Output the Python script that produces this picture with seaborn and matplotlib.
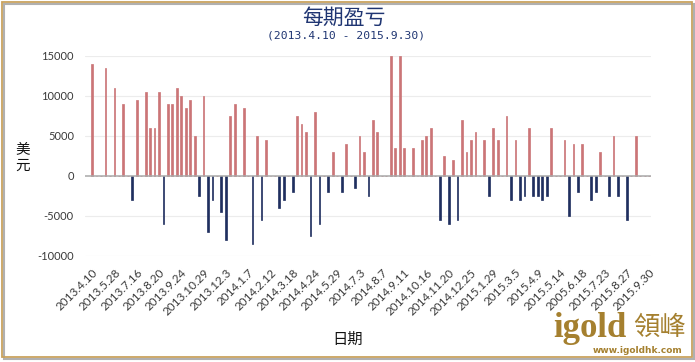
import numpy as np
import pandas as pd
import seaborn as sns
import matplotlib.pyplot as plt
from matplotlib.patches import Rectangle

# weekly profit / loss (USD), one entry per period, 0 = no trade
pnl = [
    14000, 0, 0, 13500, 0, 11000, 0, 9000, 0, -3000,
    9500, 0, 10500, 6000, 6000, 10500, -6000, 9000, 9000, 11000,
    10000, 8500, 9500, 5000, -2500, 10000, -7000, -3000, 0, -4500,
    -8000, 7500, 9000, 0, 8500, 0, -8500, 5000, -5500, 4500,
    0, 0, -4000, -3000, 0, -2000, 7500, 6500, 5500, -7500,
    8000, -6000, 0, -2000, 3000, 0, -2000, 4000, 0, -1500,
    5000, 3000, -2500, 7000, 5500, 0, 0, 15000, 3500, 15000,
    3500, 0, 3500, 0, 4500, 5000, 6000, 0, -5500, 2500,
    -6000, 2000, -5500, 7000, 3000, 4500, 5500, 0, 4500, -2500,
    6000, 4500, 0, 7500, -3000, 4500, -3000, -2500, 6000, -2500,
    -2500, -3000, -2500, 6000, 0, 0, 4500, -5000, 4000, -2000,
    4000, 0, -3000, -2000, 3000, 0, -2500, 5000, -2500, 0,
    -5500, 0, 5000, 0, 0, 0,
]

# every 5th period is labelled
tick_dates = [
    "2013.4.10", "2013.5.28", "2013.7.16", "2013.8.20", "2013.9.24",
    "2013.10.29", "2013.12.3", "2014.1.7", "2014.2.12", "2014.3.18",
    "2014.4.24", "2014.5.29", "2014.7.3", "2014.8.7", "2014.9.11",
    "2014.10.16", "2014.11.20", "2014.12.25", "2015.1.29", "2015.3.5",
    "2015.4.9", "2015.5.14", "2005.6.18", "2015.7.23", "2015.8.27",
    "2015.9.30",
]
y_ticks = [15000, 10000, 5000, 0, -5000, -10000]

navy = "#1f3572"
gold = "#a5802f"

df = pd.DataFrame({"period": np.arange(len(pnl)), "pnl": pnl})
df["sign"] = np.where(df["pnl"] >= 0, "gain", "loss")

sns.set_style("white")
plt.rcParams["font.family"] = ["Lato", "DejaVu Sans"]

fig = plt.figure(figsize=(6.95, 3.62), dpi=100)
ax = fig.add_axes([85 / 695, 1 - 256 / 362, 566 / 695, 200 / 362])

sns.barplot(data=df, x="period", y="pnl", hue="sign",
            palette={"gain": "#d9676a", "loss": "#15296a"},
            dodge=False, width=0.4, linewidth=0.5, legend=False, ax=ax)
# outline each bar in its own colour so the thin bars stay solid
for p in ax.patches:
    p.set_edgecolor(p.get_facecolor())

ax.set_ylim(-10000, 15000)
ax.set_xlim(-1.6, len(pnl) - 0.6)
ax.set_yticks(y_ticks)
ax.set_yticklabels([str(v) for v in y_ticks], fontsize=8, color="#3a3a3a")
ax.set_xticks(range(0, len(pnl), 5))
ax.set_xticklabels(tick_dates, rotation=45, ha="right", va="top",
                   rotation_mode="anchor", fontsize=8.5, color="#3a3a3a")
ax.tick_params(axis="both", length=0)
ax.tick_params(axis="y", pad=8)
ax.tick_params(axis="x", pad=8)
for v in y_ticks:
    if v != 0:
        ax.axhline(v, color="#ececec", lw=0.8, zorder=0)
ax.axhline(0, color="#a8a8a8", lw=1.1, zorder=3)
for s in ax.spines.values():
    s.set_visible(False)
ax.set_xlabel("")
ax.set_ylabel("")

# titles
cjk = ["Noto Sans CJK SC", "DejaVu Sans"]
fig.text(0.495, 0.95, "每期盈亏", ha="center", va="center",
         fontsize=15, color=navy, family=cjk)
fig.text(0.498, 0.901, "(2013.4.10 - 2015.9.30)", ha="center", va="center",
         fontsize=8.2, color=navy, family="DejaVu Sans Mono")
fig.text(0.032, 0.565, "美\n元", ha="center", va="center", fontsize=10.5,
         color="#111111", family=cjk, linespacing=1.3)
fig.text(0.5, 0.062, "日期", ha="center", va="center", fontsize=11,
         color="#111111", family=cjk)

# logo
fig.text(553 / 695, 1 - 337 / 362, "igold", ha="left", va="baseline",
         fontsize=25, fontweight="bold", color=gold, family="Liberation Serif")
fig.text(660 / 695, 1 - 327 / 362, "領峰", ha="center", va="center",
         fontsize=19, color=gold, family=["Noto Sans CJK TC", "DejaVu Sans"])
fig.text(638 / 695, 1 - 350.5 / 362, "www.igoldhk.com", ha="center", va="center",
         fontsize=6.5, fontweight="bold", color=gold, family="DejaVu Sans")

# frame with shadow
fig.patches.append(Rectangle((4 / 695, 1 - 359 / 362), 690 / 695, 355 / 362,
                             transform=fig.transFigure, fill=False,
                             edgecolor="#b0b0b0", lw=1.5, zorder=-2))
fig.patches.append(Rectangle((2 / 695, 1 - 357 / 362), 690 / 695, 355 / 362,
                             transform=fig.transFigure, fill=False,
                             edgecolor="#c9a25e", lw=1.3, zorder=-1))

fig.savefig("out.png", dpi=100)
